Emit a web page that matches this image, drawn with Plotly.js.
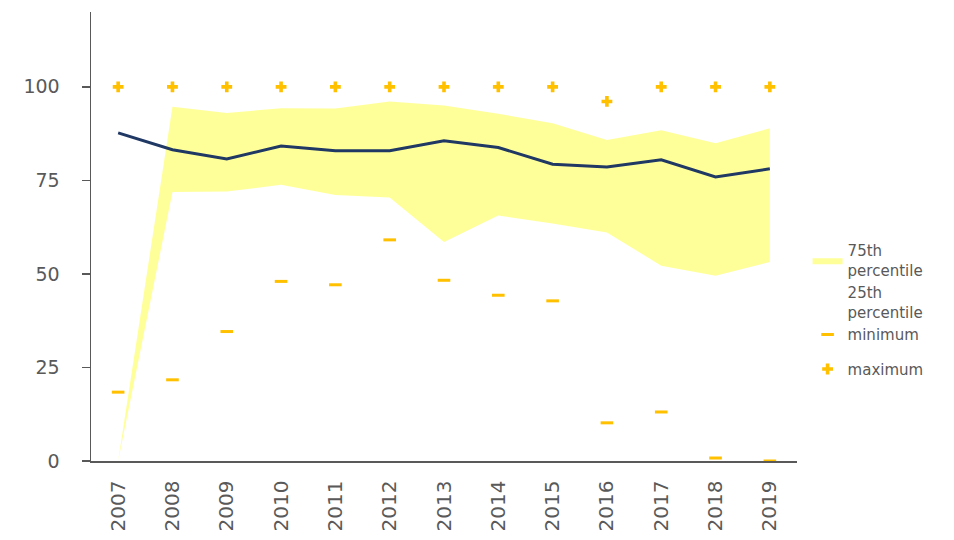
<!DOCTYPE html>
<html><head><meta charset="utf-8">
<script src="https://cdn.plot.ly/plotly-3.0.1.min.js"></script>
<style>html,body{margin:0;padding:0;background:#fff}#c{width:954px;height:540px}
#edge{position:absolute;left:11px;top:0;width:2px;height:540px;background:#e6e6e6}</style>
</head><body><div id="edge"></div><div id="c"></div>
<script>
const years = ['2007','2008','2009','2010','2011','2012','2013','2014','2015','2016','2017','2018','2019'];
const p75 = [0, 94.7, 93.0, 94.3, 94.2, 96.1, 95.0, 92.8, 90.3, 85.8, 88.4, 84.9, 88.9];
const p25 = [0, 71.9, 72.0, 73.8, 71.1, 70.4, 58.5, 65.6, 63.5, 61.1, 52.2, 49.5, 53.2];
const median = [87.7, 83.2, 80.7, 84.2, 82.9, 82.9, 85.6, 83.8, 79.3, 78.6, 80.5, 75.9, 78.1];
const minimum = [18.4, 21.7, 34.6, 48.0, 47.1, 59.1, 48.3, 44.3, 42.8, 10.2, 13.1, 0.8, 0];
const maximum = [100, 100, 100, 100, 100, 100, 100, 100, 100, 96.1, 100, 100, 100];

const orange = '#FFC000';
const data = [
  {x: years, y: p25, type:'scatter', mode:'lines', name:'25th<br>percentile', legendgroup:'a',
   line:{width:0, color:'rgba(0,0,0,0)'}, legendrank:2, hoverinfo:'skip'},
  {x: years, y: p75, type:'scatter', mode:'lines', name:'75th<br>percentile', legendgroup:'a',
   fill:'tonexty', fillcolor:'#FFFF99', line:{width:0, color:'#FFFF99'}, legendrank:1},
  {x: years, y: median, type:'scatter', mode:'lines', name:'median', showlegend:false,
   line:{color:'#1F3864', width:3}},
  {x: years, y: minimum, type:'scatter', mode:'markers', name:'minimum', legendgroup:'a', legendrank:3,
   marker:{symbol:'line-ew', size:9, color:orange, line:{color:orange, width:3}}},
  {x: years, y: maximum, type:'scatter', mode:'markers', name:'maximum', legendgroup:'b', legendrank:4,
   marker:{symbol:'cross', size:9, color:orange}}
];
const layout = {
  width:954, height:540,
  margin:{l:91, r:157, t:12, b:79},
  paper_bgcolor:'#fff', plot_bgcolor:'#fff',
  font:{family:'DejaVu Sans, sans-serif', color:'#595959'},
  showlegend:true,
  legend:{x:1.015, y:0.505, xanchor:'left', yanchor:'top', traceorder:'grouped', tracegroupgap:12,
    font:{size:15, color:'#595959'}, itemwidth:30, bgcolor:'rgba(0,0,0,0)'},
  xaxis:{type:'category', range:[-0.5, 12.5], showline:true, linecolor:'#595959', linewidth:1.5,
    ticks:'outside', ticklen:10, tickcolor:'rgba(0,0,0,0)', tickangle:-90,
    tickfont:{size:20, color:'#595959'}, showgrid:false, zeroline:false},
  yaxis:{range:[0,120], tickvals:[0,25,50,75,100], showline:true, linecolor:'#595959', linewidth:1.5,
    ticks:'outside', ticklen:8, tickcolor:'#595959', tickwidth:1.5, ticklabelstandoff:18,
    tickfont:{size:19, color:'#595959'}, showgrid:false, zeroline:false}
};
Plotly.newPlot('c', data, layout, {displayModeBar:false, staticPlot:true});
</script></body></html>
